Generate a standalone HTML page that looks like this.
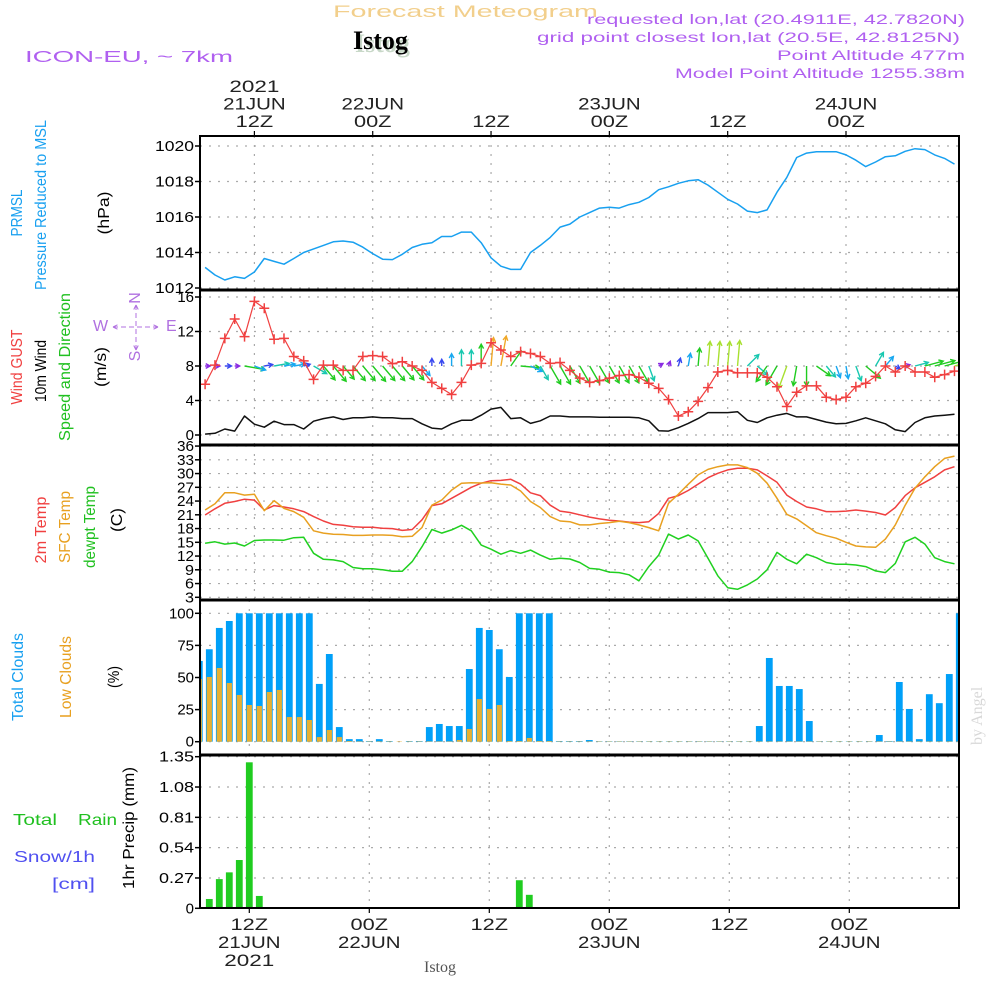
<!DOCTYPE html>
<html><head><meta charset="utf-8"><style>
html,body{margin:0;padding:0;background:#fff;}
svg text{font-family:"Liberation Sans",sans-serif;}
</style></head>
<body>
<svg id="chart" xmlns="http://www.w3.org/2000/svg" width="1000" height="1000" viewBox="0 0 1000 1000">
<rect width="1000" height="1000" fill="#fff"/>
<text x="333" y="17" font-size="17" fill="#f2cf8c" textLength="265" lengthAdjust="spacingAndGlyphs">Forecast Meteogram</text>
<text x="355" y="52" font-size="26" font-weight="bold" fill="#c8d8c8" style="font-family:'Liberation Serif',serif">Istog</text>
<text x="353" y="49" font-size="26" font-weight="bold" fill="#000" style="font-family:'Liberation Serif',serif">Istog</text>
<text x="25" y="62" font-size="16" fill="#b060f0" textLength="208" lengthAdjust="spacingAndGlyphs">ICON-EU, ~ 7km</text>
<text x="587" y="24" font-size="14" fill="#b060f0" textLength="378" lengthAdjust="spacingAndGlyphs">requested lon,lat (20.4911E, 42.7820N)</text>
<text x="537" y="42" font-size="14" fill="#b060f0" textLength="423" lengthAdjust="spacingAndGlyphs">grid point closest lon,lat (20.5E, 42.8125N)</text>
<text x="777" y="60" font-size="14" fill="#b060f0" textLength="188" lengthAdjust="spacingAndGlyphs">Point Altitude 477m</text>
<text x="675" y="78" font-size="14" fill="#b060f0" textLength="290" lengthAdjust="spacingAndGlyphs">Model Point Altitude 1255.38m</text>
<text x="424" y="972" font-size="16" fill="#555" style="font-family:'Liberation Serif',serif">Istog</text>
<text transform="translate(982,745) rotate(-90)" font-size="16" fill="#d8d8d8" style="font-family:'Liberation Serif',serif">by Angel</text>
<g id="g"></g>
</svg>
<script>
// ---- data (hourly from 07Z 21JUN) ----
const pressure = [1013.16,1012.73,1012.45,1012.63,1012.54,1012.9,1013.66,1013.5,1013.34,1013.66,1014.0,1014.2,1014.4,1014.6,1014.65,1014.58,1014.3,1013.94,1013.62,1013.6,1013.9,1014.28,1014.46,1014.55,1014.9,1014.9,1015.15,1015.15,1014.55,1013.7,1013.23,1013.05,1013.05,1014.0,1014.4,1014.85,1015.43,1015.6,1016.0,1016.25,1016.5,1016.55,1016.5,1016.7,1016.83,1017.1,1017.54,1017.7,1017.9,1018.04,1018.1,1017.8,1017.4,1017.0,1016.73,1016.33,1016.25,1016.4,1017.4,1018.23,1019.35,1019.6,1019.68,1019.68,1019.68,1019.5,1019.2,1018.84,1019.1,1019.4,1019.45,1019.7,1019.85,1019.8,1019.5,1019.3,1018.98];
const gust = [5.88,8.1,11.2,13.45,11.4,15.5,14.7,11.1,11.2,9.1,8.6,6.45,8.1,8.1,7.5,7.5,9.1,9.2,9.1,8.27,8.5,8.0,7.5,6.1,5.4,4.7,6.1,8.1,8.3,10.7,9.85,9.1,9.66,9.45,9.1,8.3,8.4,7.5,6.6,6.1,6.3,6.6,6.9,7.0,6.7,6.0,5.4,4.1,2.2,2.7,3.9,5.5,7.3,7.5,7.2,7.2,7.2,6.7,5.6,3.3,4.95,5.7,5.7,4.37,4.1,4.37,5.6,6.0,6.8,8.0,7.3,8.0,7.3,7.3,6.7,7.0,7.4];
const wind10 = [0.1,0.2,0.7,0.45,2.2,1.25,0.9,1.6,1.2,1.2,0.7,1.6,1.9,2.1,1.8,2.0,2.0,2.1,2.0,2.0,1.9,1.9,1.3,0.8,0.7,1.3,1.7,1.7,2.3,3.0,3.2,1.9,2.0,1.35,1.65,2.2,2.2,2.1,2.1,2.1,2.05,2.05,2.05,2.05,2.0,1.65,0.5,0.45,0.85,1.35,1.9,2.6,2.6,2.6,2.7,1.7,1.45,2.0,2.3,2.5,2.1,2.1,1.8,1.5,1.3,1.35,1.65,2.0,1.65,1.3,0.6,0.4,1.45,2.0,2.2,2.3,2.4];
const windToDir = [90,90,90,90,100,110,80,80,80,80,75,120,140,140,140,140,140,140,140,140,140,140,140,0,0,0,0,0,0,5,10,35,95,115,150,150,150,150,150,150,150,150,150,150,150,160,60,20,15,10,5,5,5,5,5,45,130,215,210,200,190,180,125,140,160,170,160,130,30,40,120,75,75,75,75,75,75];
const temp2m = [20.96,22.3,23.5,23.9,24.4,24.2,22.05,23.0,22.7,22.3,21.7,20.6,19.65,18.9,18.7,18.4,18.3,18.3,18.05,18.0,17.6,17.8,19.9,23.0,23.4,24.6,25.8,27.0,27.9,28.45,28.5,28.75,27.7,25.8,25.2,23.1,21.8,21.5,21.0,20.5,20.1,19.8,19.65,19.4,19.3,19.5,21.3,24.6,25.2,26.3,27.7,29.1,30.05,30.8,31.15,31.15,30.8,29.5,28.1,25.3,23.9,22.7,22.3,21.7,21.7,21.8,22.05,21.8,21.5,20.96,22.6,25.2,26.9,28.1,29.3,30.8,31.5];
const tempSfc = [22.05,23.4,25.8,25.8,25.3,25.5,21.9,24.1,22.4,21.7,20.45,17.5,17.0,16.75,16.7,16.5,16.5,16.6,16.6,16.5,16.2,16.3,18.2,23.1,24.2,26.4,27.9,28.0,27.95,28.0,27.7,27.5,26.2,23.9,22.6,20.6,19.65,19.5,18.8,18.8,19.1,19.3,19.6,19.3,18.8,18.2,17.5,23.5,25.5,27.65,29.7,30.9,31.5,31.9,31.9,31.3,30.05,27.9,24.6,21.1,20.1,18.6,17.1,16.45,15.9,15.0,14.2,14.0,13.9,15.7,18.8,23.1,26.8,29.3,31.5,33.3,33.8];
const dewpt = [14.8,15.1,14.6,14.85,14.2,15.4,15.5,15.5,15.45,16.0,16.1,12.6,11.3,11.15,10.8,9.5,9.25,9.25,9.0,8.7,8.7,10.8,14.05,17.8,17.0,17.7,18.7,17.5,14.4,13.5,12.4,13.2,12.6,13.3,12.2,11.3,11.5,11.35,10.6,9.3,9.1,8.5,8.4,7.9,6.6,9.7,12.2,16.8,15.7,16.6,15.3,11.5,7.7,5.1,4.75,5.7,7.0,9.0,12.8,11.3,10.3,12.4,11.65,10.6,10.2,10.2,10.05,9.7,8.75,8.4,10.4,15.1,16.1,14.6,11.65,10.8,10.3];
const cloudTotal = [62.9,72,88.6,94,100,100,100,100,100,100,100,100,45,68.3,11.4,2,2,0.5,2,0.5,0,0.5,0.5,11.4,13.8,12.2,12.2,56.6,88.6,87,72,50.4,100,100,100,100,0.5,0.5,0.5,1.3,0.3,0.3,0.3,0.3,0.3,0.3,0.3,0.3,0.3,0.3,0.3,0.3,0.3,0.3,0.3,0.3,12.2,65.2,43.4,43.4,41,16.1,0.3,0.3,0.3,0.3,0.3,0.3,5.2,0.5,46.5,25.5,2,37,30,52.7,100];
const cloudLow = [48.8,50.4,57.4,45.7,36.4,28.6,27.8,38.7,40.3,19.2,19.2,16.9,3.6,9.1,3.6,0.5,0.3,0.3,0.3,0.3,0.3,0.3,0.3,0.3,0.3,0.3,1.3,9.9,33.2,25.5,28.6,0.5,0.5,2.9,0.5,0.5,0.3,0.3,0.3,0.3,0.3,0.3,0.3,0.3,0.3,0.3,0.3,0.3,0.3,0.3,0.3,0.3,0.3,0.3,0.3,0.3,0.3,0.3,0.3,0.3,0.3,0.3,0.3,0.3,0.3,0.3,0.3,0.3,0.3,0.3,0.3,0.3,0.3,0.3,0.3,0.3,0.3];
const precip = [0,0.083,0.26,0.32,0.43,1.30,0.11,0,0,0,0,0,0,0,0,0,0,0,0,0,0,0,0,0,0,0,0,0,0,0,0,0,0.25,0.12,0,0,0,0,0,0,0,0,0,0,0,0,0,0,0,0,0,0,0,0,0,0,0,0,0,0,0,0,0,0,0,0,0,0,0,0,0,0,0,0,0,0,0];
const pressTicks = [1012,1014,1016,1018,1020];
const windTicks = [0,4,8,12,16];
const tempTicks = [3,6,9,12,15,18,21,24,27,30,33,36];
const cloudTicks = [0,25,50,75,100];
const precipTicks = [0,0.27,0.54,0.81,1.08,1.35];
const timeTickHours = [5,17,29,41,53,65];
const topTimeLabels = [["2021","21JUN","12Z"],["22JUN","00Z"],["12Z"],["23JUN","00Z"],["12Z"],["24JUN","00Z"]];
const bottomTimeLabels = [["12Z","21JUN","2021"],["00Z","22JUN"],["12Z"],["00Z","23JUN"],["12Z"],["00Z","24JUN"]];

// ---- scales ----
const X0 = 200, X1 = 959;
const xT = h => 205.1 + h * 9.86;
const xB = h => 199.3 + h * 10;
const yP = v => 288 - (v - 1012) * 17.75;
const yW = v => 435 - v * 8.625;
const yT = v => 597.3 - (v - 3) * 4.583;
const yC = v => 741.7 - v * 1.284;
const yR = v => 908.3 - v * 112.3;
const panels = [[136,290],[290,445],[445,600],[600,755],[755,908]];

const NS = "http://www.w3.org/2000/svg";
const G = document.getElementById('g');
function mk(tag, attrs, parent){ const e=document.createElementNS(NS,tag); for(const k in attrs) e.setAttribute(k,attrs[k]); (parent||G).appendChild(e); return e; }

const defs = mk('defs',{});
const cp = mk('clipPath',{id:'plotclip'},defs);
mk('rect',{x:X0,y:130,width:X1-X0,height:790},cp);

function hGrid(y){ const l=mk('line',{x1:X0,x2:X1,y1:y,y2:y,stroke:'#aaa','stroke-width':1.2,'stroke-dasharray':'2,7'});

 }
function tickLabel(x,y,s,w){ const t=mk('text',{x:x,y:y+5,'font-size':15,'text-anchor':'end',fill:'#000'}); t.textContent=s; if(w) { t.setAttribute('textLength',w); t.setAttribute('lengthAdjust','spacingAndGlyphs'); }


const tk=mk('line',{x1:X0-5,x2:X0,y1:y,y2:y,stroke:'#000','stroke-width':1.5});

 }

pressTicks.forEach(v=>{ hGrid(yP(v)); tickLabel(194,yP(v),String(v),39); });
windTicks.forEach(v=>{ hGrid(yW(v)); tickLabel(194,yW(v),String(v)); });
tempTicks.forEach(v=>{ hGrid(yT(v)); tickLabel(194,yT(v),String(v),String(v).length>1?17:9); });
cloudTicks.forEach(v=>{ hGrid(yC(v)); tickLabel(194,yC(v),String(v)); });
precipTicks.forEach(v=>{ hGrid(yR(v)); tickLabel(194,yR(v),v===0?'0':v.toFixed(2),v===0?null:35); });

timeTickHours.forEach(h=>{
  for(let p=0;p<3;p++){ const l=mk('line',{x1:xT(h),x2:xT(h),y1:panels[p][0],y2:panels[p][1],stroke:'#aaa','stroke-width':1.2,'stroke-dasharray':'2,7'});
  
   }
  for(let p=3;p<5;p++){ const l=mk('line',{x1:xB(h),x2:xB(h),y1:panels[p][0],y2:panels[p][1],stroke:'#aaa','stroke-width':1.2,'stroke-dasharray':'2,7'});
  
   }
  const tt=mk('line',{x1:xT(h),x2:xT(h),y1:131,y2:136,stroke:'#000','stroke-width':1.2});
  
  
  const bt=mk('line',{x1:xB(h),x2:xB(h),y1:908,y2:913,stroke:'#000','stroke-width':1.2});
  
  
});
timeTickHours.forEach((h,i)=>{
  const lines=topTimeLabels[i];
  lines.forEach((s,j)=>{ const y=127-(lines.length-1-j)*17.5;
    const t=mk('text',{x:xT(h),y:y,'font-size':17,'text-anchor':'middle',fill:'#222'}); t.textContent=s;
    t.setAttribute('textLength', s.length*12.5);
    t.setAttribute('lengthAdjust','spacingAndGlyphs');
    
     });
});
timeTickHours.forEach((h,i)=>{
  const lines=bottomTimeLabels[i];
  lines.forEach((s,j)=>{ const y=930+j*18;
    const t=mk('text',{x:xB(h),y:y,'font-size':17,'text-anchor':'middle',fill:'#222'}); t.textContent=s;
    t.setAttribute('textLength', s.length*12.5);
    t.setAttribute('lengthAdjust','spacingAndGlyphs');
    
     });
});

const plot = mk('g',{'clip-path':'url(#plotclip)'});



function line(arr, xf, yf, color, name, w){
  const d = arr.map((v,i)=>(i?'L':'M')+xf(i).toFixed(1)+','+yf(v).toFixed(1)).join('');
  const p=mk('path',{d:d,fill:'none',stroke:color,'stroke-width':w||1.5,'stroke-linejoin':'round'},plot);
  
  
}
line(pressure,xT,yP,'#18a0f0','pressure-line');
line(wind10,xT,yW,'#111','wind-speed-line');
function windColor(s){ if(s<0.6) return '#8a2be2'; if(s<1.0) return '#3848f0'; if(s<1.4) return '#18a8f0'; if(s<1.8) return '#18c8b0'; if(s<2.4) return '#20cc20'; if(s<3.0) return '#a8e030'; return '#f0a828'; }
wind10.forEach((s,i)=>{
  const a = windToDir[i]*Math.PI/180, L = Math.max(5, s*9.5);
  const x1=xT(i), y1=yW(8), x2=x1+Math.sin(a)*L, y2=y1-Math.cos(a)*L;
  const c=windColor(s);
  const ang=Math.atan2(y2-y1,x2-x1), hl=5;
  const d='M'+x1+','+y1+'L'+x2+','+y2+'M'+(x2-hl*Math.cos(ang-0.5))+','+(y2-hl*Math.sin(ang-0.5))+'L'+x2+','+y2+'L'+(x2-hl*Math.cos(ang+0.5))+','+(y2-hl*Math.sin(ang+0.5));
  const p=mk('path',{d:d,fill:'none',stroke:c,'stroke-width':1.4},plot);
  
  
});
line(gust,xT,yW,'#f04040','wind-gust-line',1.2);
gust.forEach((v,i)=>{ const x=xT(i),y=yW(v);
  const p=mk('path',{d:'M'+(x-5)+','+y+'H'+(x+5)+'M'+x+','+(y-5)+'V'+(y+5),stroke:'#f04040','stroke-width':1.5},plot);
  
   });
line(temp2m,xT,yT,'#f04040','temp-2m-line');
line(tempSfc,xT,yT,'#e8a020','temp-sfc-line');
line(dewpt,xT,yT,'#20d020','dewpoint-line');
cloudTotal.forEach((v,i)=>{ const r=mk('rect',{x:xB(i)-3.4,y:yC(v),width:6.8,height:yC(0)-yC(v),fill:'#00a0f8'},plot);
  
   });
cloudLow.forEach((v,i)=>{ const r=mk('rect',{x:xB(i)-2.6,y:yC(v),width:5.2,height:yC(0)-yC(v),fill:'#e8b030'},plot);
  
   });
precip.forEach((v,i)=>{ if(v<=0) return; const r=mk('rect',{x:xB(i)-3.4,y:yR(v),width:6.8,height:yR(0)-yR(v),fill:'#20cc20'},plot);
  
   });

panels.forEach((p,i)=>{ const r=mk('rect',{x:X0,y:p[0],width:X1-X0,height:p[1]-p[0],fill:'none',stroke:'#000','stroke-width':2});
  
   });
[290,445,600,755].forEach(y=>{ const l=mk('line',{x1:X0,x2:X1,y1:y,y2:y,stroke:'#000','stroke-width':3});
  
   });

function vlabel(x,y,s,color,len,name){ const t=mk('text',{transform:'translate('+x+','+y+') rotate(-90)','font-size':16,'text-anchor':'middle',fill:color}); t.textContent=s;
  if(len){ t.setAttribute('textLength',len); t.setAttribute('lengthAdjust','spacingAndGlyphs'); }
  
   }
vlabel(22,213,'PRMSL','#18a0f0',47,'pressure-title');
vlabel(46,205,'Pressure Reduced to MSL','#18a0f0',170,'pressure-subtitle');
vlabel(109,213,'(hPa)','#000',43,'pressure-unit');
vlabel(22,367,'Wind GUST','#f04040',75,'gust-title');
vlabel(46,371,'10m Wind','#000',62,'wind-title');
vlabel(70,367,'Speed and Direction','#20c020',148,'wind-subtitle');
vlabel(106,367,'(m/s)','#000',40,'wind-unit');
vlabel(46,530,'2m Temp','#f04040',67,'temp-2m-title');
vlabel(70,527,'SFC Temp','#e8a020',72,'temp-sfc-title');
vlabel(95,527,'dewpt Temp','#20c020',82,'dewpoint-title');
vlabel(122,520,'(C)','#000',24,'temp-unit');
vlabel(23,677,'Total Clouds','#18a0f0',88,'total-cloud-title');
vlabel(71,677,'Low Clouds','#e8a020',82,'low-cloud-title');
vlabel(119,677,'(%)','#000',22,'cloud-unit');
vlabel(134,828,'1hr Precip (mm)','#000',122,'precip-title');
function htext(x,y,s,color,len,name){ const t=mk('text',{x:x,y:y,'font-size':16,fill:color}); t.textContent=s; if(len){ t.setAttribute('textLength',len); t.setAttribute('lengthAdjust','spacingAndGlyphs'); }
  
   }
htext(13,825,'Total','#20c020',44,'legend-total');
htext(78,825,'Rain','#20c020',39,'legend-rain');
htext(14,862,'Snow/1h','#5050f0',81,'legend-snow');
htext(52,889,'[cm]','#5050f0',43,'legend-snow-unit');
const cc='#b070e0';
htext(93,331,'W',cc,null,'compass-west');
htext(166,331,'E',cc,null,'compass-east');
const ch=mk('path',{d:'M113,327H158M113,327l6,-3M113,327l6,3M158,327l-6,-3M158,327l-6,3M136,305V350M136,305l-3,6M136,305l3,6M136,350l-3,-6M136,350l3,-6',stroke:cc,'stroke-width':1,fill:'none','stroke-dasharray':'5,3'});


vlabel(140,298,'N',cc,null,'compass-north');
vlabel(140,356,'S',cc,null,'compass-south');
</script>
</body></html>
